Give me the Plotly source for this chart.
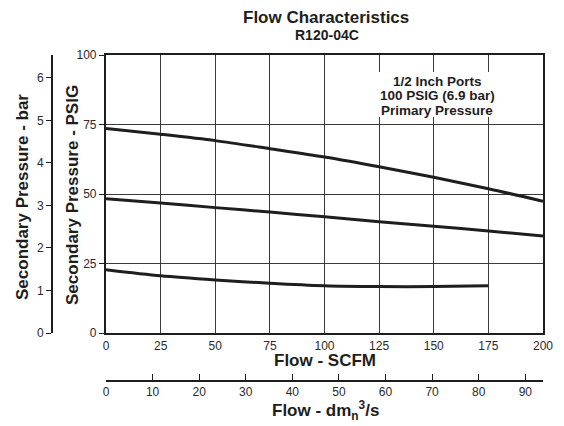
import plotly.graph_objects as go

# Flow (SCFM) sample points shared by all curves
flow_scfm = [0, 25, 50, 75, 100, 125, 150, 175, 200]
# Secondary pressure (PSIG) for the three regulator settings
curve_high = [73.6, 71.5, 69.2, 66.3, 63.3, 59.8, 56.0, 51.9, 47.4]
curve_mid = [48.3, 46.8, 45.1, 43.5, 41.8, 40.0, 38.4, 36.7, 34.9]
flow_low = [0, 25, 50, 75, 100, 125, 150, 175]
curve_low = [22.8, 20.6, 19.1, 17.9, 17.0, 16.7, 16.7, 17.0]

scfm_ticks = [0, 25, 50, 75, 100, 125, 150, 175, 200]
psig_ticks = [0, 25, 50, 75, 100]
bar_ticks = [0, 1, 2, 3, 4, 5, 6]
dm3_ticks = [0, 10, 20, 30, 40, 50, 60, 70, 80, 90]

W, H = 564, 426
FONT = "Liberation Sans, Arial, sans-serif"
INK = "#1e1e1e"
GRID = "#3a3a3a"

def px(x):
    return x / W

def py(y):
    return 1 - y / H

fig = go.Figure()
for xs, ys in [(flow_scfm, curve_high), (flow_scfm, curve_mid), (flow_low, curve_low)]:
    fig.add_trace(go.Scatter(x=xs, y=ys, mode="lines",
                             line=dict(color=INK, width=3, shape="spline", smoothing=0.8),
                             hoverinfo="skip", showlegend=False))

# invisible carriers for the secondary scales
fig.add_trace(go.Scatter(x=[0], y=[0], xaxis="x2", yaxis="y", mode="markers",
                         marker=dict(opacity=0), hoverinfo="skip", showlegend=False))
fig.add_trace(go.Scatter(x=[0], y=[0], xaxis="x", yaxis="y2", mode="markers",
                         marker=dict(opacity=0), hoverinfo="skip", showlegend=False))

tickfont = dict(family=FONT, size=12, color="#2a2a2a")
xdom = [px(106), px(543)]
ydom = [py(333), py(55)]

fig.update_layout(
    width=W, height=H,
    margin=dict(l=0, r=0, t=0, b=0, autoexpand=False),
    paper_bgcolor="white", plot_bgcolor="white",
    font=dict(family=FONT, color=INK),
    xaxis=dict(domain=xdom, range=[0, 200], tickvals=scfm_ticks, ticks="",
               showgrid=True, gridcolor=GRID, gridwidth=1.3, zeroline=False,
               showline=True, linecolor=INK, linewidth=2.2, mirror=True,
               tickfont=tickfont, anchor="y", fixedrange=True),
    yaxis=dict(domain=ydom, range=[0, 100], tickvals=psig_ticks, ticks="outside",
               ticklen=5, tickwidth=1.3, tickcolor=INK,
               showgrid=True, gridcolor=GRID, gridwidth=1.3, zeroline=False,
               showline=True, linecolor=INK, linewidth=2.2, mirror=True,
               tickfont=tickfont, anchor="x", fixedrange=True),
    xaxis2=dict(overlaying="x", anchor="free", position=py(381), side="bottom",
                range=[0, 93.8], tickvals=dm3_ticks, ticks="inside", ticklen=6,
                tickwidth=1.2, tickcolor=INK, showgrid=False, zeroline=False,
                showline=True, linecolor=INK, linewidth=2, tickfont=tickfont,
                fixedrange=True),
    yaxis2=dict(overlaying="y", anchor="free", position=px(52), side="left",
                range=[0, 6.54], tickvals=bar_ticks, ticks="outside", ticklen=5,
                tickwidth=1.2, tickcolor=INK, showgrid=False, zeroline=False,
                showline=True, linecolor=INK, linewidth=1.6, tickfont=tickfont,
                fixedrange=True),
)

# white panel behind the operating-condition note
fig.add_shape(type="rect", xref="x", yref="y", x0=124.5, x1=179.4, y0=77.7, y1=93.9,
              fillcolor="white", line=dict(width=0), layer="above")

notes = ["1/2 Inch Ports", "100 PSIG (6.9 bar)", "Primary Pressure"]
for text, yv in zip(notes, [90.6, 85.5, 80.2]):
    fig.add_annotation(x=151.5, y=yv, xref="x", yref="y", text=f"<b>{text}</b>",
                       showarrow=False, xanchor="center", yanchor="middle",
                       font=dict(family=FONT, size=13.5, color=INK))

def label(text, x, y, size, angle=0):
    fig.add_annotation(x=px(x), y=py(y), xref="paper", yref="paper", text=f"<b>{text}</b>",
                       showarrow=False, textangle=angle, xanchor="center", yanchor="middle",
                       font=dict(family=FONT, size=size, color=INK))

label("Flow Characteristics", 326, 17, 17)
label("R120-04C", 327, 35, 14)
label("Flow - SCFM", 325, 360, 17)
label("Flow - dm<sub>n</sub><sup>3</sup>/s", 325, 410, 17)
label("Secondary Pressure - bar", 22, 197, 17, -90)
label("Secondary Pressure - PSIG", 72, 195, 17, -90)

fig.write_html("out.html")
